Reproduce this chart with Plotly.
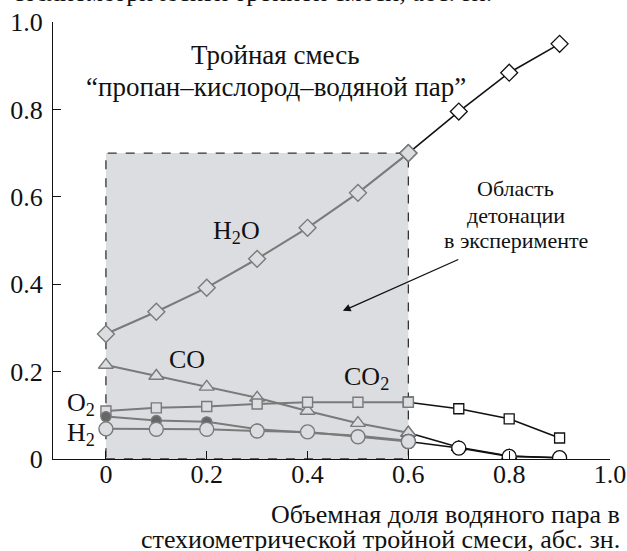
import plotly.graph_objects as go

# Volume fraction of water vapour in the stoichiometric mixture
x_vals = [0.0, 0.1, 0.2, 0.3, 0.4, 0.5, 0.6, 0.7, 0.8, 0.9]

# Species fractions in the products
h2o = [0.286, 0.337, 0.392, 0.458, 0.529, 0.609, 0.700, 0.795, 0.884, 0.950]
co = [0.215, 0.190, 0.165, 0.140, 0.110, 0.082, 0.060, 0.027, 0.007, 0.003]
co2 = [0.110, 0.117, 0.120, 0.126, 0.130, 0.130, 0.130, 0.115, 0.092, 0.048]
o2 = [0.097, 0.088, 0.085, 0.068, 0.060, 0.053, 0.042, None, None, None]
h2 = [0.069, 0.068, 0.068, 0.064, 0.062, 0.051, 0.040, 0.025, 0.006, 0.003]

x_ticks = [0, 0.2, 0.4, 0.6, 0.8, 1.0]
x_tick_text = ["0", "0.2", "0.4", "0.6", "0.8", "1.0"]
y_ticks = [0, 0.2, 0.4, 0.6, 0.8, 1.0]
y_tick_text = ["0", "0.2", "0.4", "0.6", "0.8", "1.0"]

# Detonation region observed experimentally
region_x = [0.0, 0.6]
region_y = [0.0, 0.7]
split_x = 0.6  # computed points beyond this are drawn in black

FONT = "Times New Roman, Liberation Serif, Tinos, serif"
GRAY = "#7a7a7a"
BLACK = "#111111"

fig = go.Figure()

fig.add_shape(type="rect", x0=region_x[0], x1=region_x[1], y0=region_y[0], y1=region_y[1],
              xref="x", yref="y", layer="below",
              fillcolor="#dcdde0", line=dict(color="#333333", width=1.3, dash="dash"))


def add_series(yv, symbol, size, fill_gray, fill_black):
    idx_a = [i for i, xv in enumerate(x_vals) if xv <= split_x and yv[i] is not None]
    idx_b = [i for i, xv in enumerate(x_vals) if xv >= split_x and yv[i] is not None]
    if len(idx_b) > 1:
        fig.add_trace(go.Scatter(
            x=[x_vals[i] for i in idx_b], y=[yv[i] for i in idx_b],
            mode="lines+markers", line=dict(color=BLACK, width=1.6),
            marker=dict(symbol=symbol, size=size, color=fill_black,
                        line=dict(color=BLACK, width=1.3)),
            showlegend=False, hoverinfo="skip"))
    fig.add_trace(go.Scatter(
        x=[x_vals[i] for i in idx_a], y=[yv[i] for i in idx_a],
        mode="lines+markers", line=dict(color=GRAY, width=2),
        marker=dict(symbol=symbol, size=size, color=fill_gray,
                    line=dict(color=GRAY, width=1.4)),
        showlegend=False, hoverinfo="skip"))


add_series(co, "triangle-up", 13, "#dcdde0", "white")
add_series(co2, "square", 10, "#dcdde0", "white")
add_series(o2, "circle", 10, "#666666", "#666666")
add_series(h2, "circle", 14, "#dcdde0", "white")
add_series(h2o, "diamond", 13, "#dcdde0", "white")

annotations = [
    dict(x=0.337, y=0.925, text="Тройная смесь", font_size=27),
    dict(x=0.337, y=0.852, text="“пропан–кислород–водяной пар”", font_size=27),
    dict(x=0.26, y=0.52, text="H<sub>2</sub>O", font_size=26),
    dict(x=0.16, y=0.227, text="CO", font_size=26),
    dict(x=0.516, y=0.185, text="CO<sub>2</sub>", font_size=26),
    dict(x=-0.05, y=0.125, text="O<sub>2</sub>", font_size=26),
    dict(x=-0.05, y=0.058, text="H<sub>2</sub>", font_size=26),
    dict(x=0.813, y=0.620, text="Область", font_size=22),
    dict(x=0.813, y=0.558, text="детонации", font_size=22),
    dict(x=0.813, y=0.499, text="в эксперименте", font_size=22),
]
anns = []
for a in annotations:
    anns.append(dict(x=a["x"], y=a["y"], xref="x", yref="y", text=a["text"],
                     showarrow=False, xanchor="center", yanchor="middle",
                     font=dict(family=FONT, size=a["font_size"], color=BLACK)))

# Arrow pointing into the detonation region
anns.append(dict(x=0.47, y=0.339, ax=0.702, ay=0.458, xref="x", yref="y", axref="x", ayref="y",
                 text="", showarrow=True, arrowhead=2, arrowsize=1.2, arrowwidth=1.3,
                 arrowcolor=BLACK))

# Axis titles
anns.append(dict(x=1.022, y=-0.126, xref="paper", yref="paper", text="Объемная доля водяного пара в",
                 showarrow=False, xanchor="right", yanchor="middle", align="right",
                 font=dict(family=FONT, size=26, color=BLACK)))
anns.append(dict(x=1.022, y=-0.185, xref="paper", yref="paper",
                 text="стехиометрической тройной смеси, абс. зн.",
                 showarrow=False, xanchor="right", yanchor="middle", align="right",
                 font=dict(family=FONT, size=26, color=BLACK)))
anns.append(dict(x=-0.076, y=1.03, xref="paper", yref="paper",
                 text="стехиометрической тройной смеси, абс. зн.",
                 showarrow=False, xanchor="left", yanchor="bottom", align="left",
                 font=dict(family=FONT, size=26, color=BLACK)))

fig.update_layout(
    width=627, height=551,
    margin=dict(l=53, r=17, t=22, b=92, autoexpand=False),
    paper_bgcolor="white", plot_bgcolor="white",
    annotations=anns,
    font=dict(family=FONT, size=26, color=BLACK),
    xaxis=dict(range=[-0.105, 1.0], tickvals=x_ticks, ticktext=x_tick_text,
               showgrid=False, zeroline=False, showline=True, linecolor=BLACK, linewidth=1.3,
               ticks="inside", ticklen=8, tickwidth=1.3, tickcolor=BLACK, automargin=False,
               ticklabelstandoff=-8,
               tickfont=dict(family=FONT, size=26, color=BLACK)),
    yaxis=dict(range=[0, 1.0], tickvals=y_ticks, ticktext=y_tick_text,
               showgrid=False, zeroline=False, showline=True, linecolor=BLACK, linewidth=1.3,
               ticks="inside", ticklen=8, tickwidth=1.3, tickcolor=BLACK, automargin=False,
               ticklabelstandoff=4,
               tickfont=dict(family=FONT, size=26, color=BLACK)),
)

fig.write_html("out.html")
